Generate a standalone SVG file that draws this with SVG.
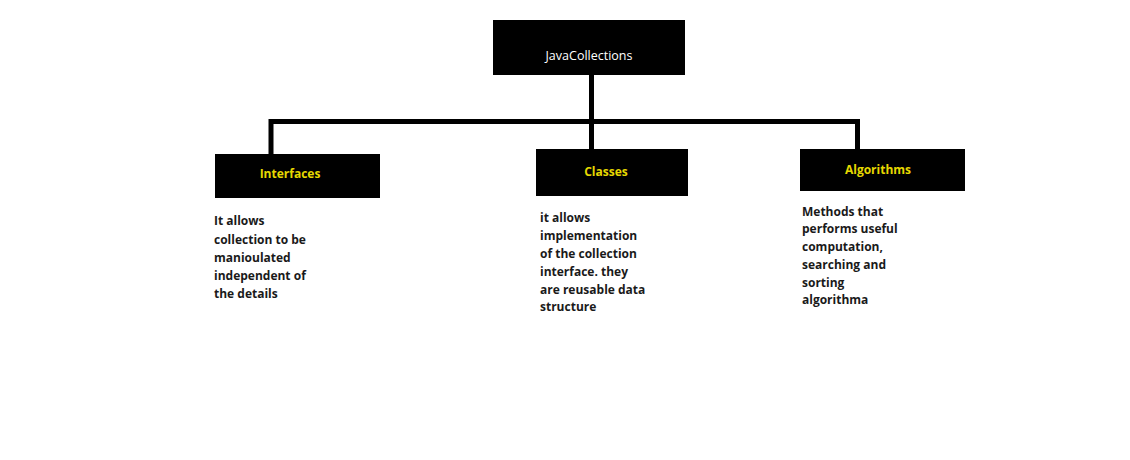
<svg xmlns="http://www.w3.org/2000/svg" width="1130" height="460" viewBox="0 0 1130 460">
<style>
.box{fill:#000}
.title{font-family:"Open Sans","Liberation Sans",sans-serif;font-size:12.5px;fill:#fff;text-anchor:middle}
.lbl{font-family:"Open Sans","Liberation Sans",sans-serif;font-size:12px;font-weight:bold;fill:#e6d800;text-anchor:middle}
.desc{font-family:"Open Sans","Liberation Sans",sans-serif;font-size:12px;font-weight:bold;fill:#1a1a1a}
.conn{fill:none;stroke:#000;stroke-width:5}
</style>
<rect width="1130" height="460" fill="#fff"/>
<g id="connectors">
<path class="conn" d="M591.5 75 V121.5"/>
<path class="conn" d="M271 154 V121.5 H857.5 V149"/>
<path class="conn" d="M591.5 121.5 V149"/>
</g>
<g id="javacollections">
<rect class="box" x="493" y="20" width="192" height="55"/>
<text class="title" x="589" y="60">JavaCollections</text>
</g>
<g id="interfaces">
<rect class="box" x="215" y="154" width="165" height="44"/>
<text class="lbl" x="290" y="178">Interfaces</text>
<text class="desc" x="214" y="225">It allows</text>
<text class="desc" x="214" y="243.5">collection to be</text>
<text class="desc" x="214" y="262">manioulated</text>
<text class="desc" x="214" y="280">independent of</text>
<text class="desc" x="214" y="298">the details</text>
</g>
<g id="classes">
<rect class="box" x="536" y="149" width="152" height="47"/>
<text class="lbl" x="606" y="176">Classes</text>
<text class="desc" x="540" y="222">it allows</text>
<text class="desc" x="540" y="240">implementation</text>
<text class="desc" x="540" y="258">of the collection</text>
<text class="desc" x="540" y="276">interface. they</text>
<text class="desc" x="540" y="294">are reusable data</text>
<text class="desc" x="540" y="311">structure</text>
</g>
<g id="algorithms">
<rect class="box" x="800" y="149" width="165" height="42"/>
<text class="lbl" x="878" y="174">Algorithms</text>
<text class="desc" x="802" y="216">Methods that</text>
<text class="desc" x="802" y="233">performs useful</text>
<text class="desc" x="802" y="251">computation,</text>
<text class="desc" x="802" y="269">searching and</text>
<text class="desc" x="802" y="287">sorting</text>
<text class="desc" x="802" y="304">algorithma</text>
</g>
</svg>
